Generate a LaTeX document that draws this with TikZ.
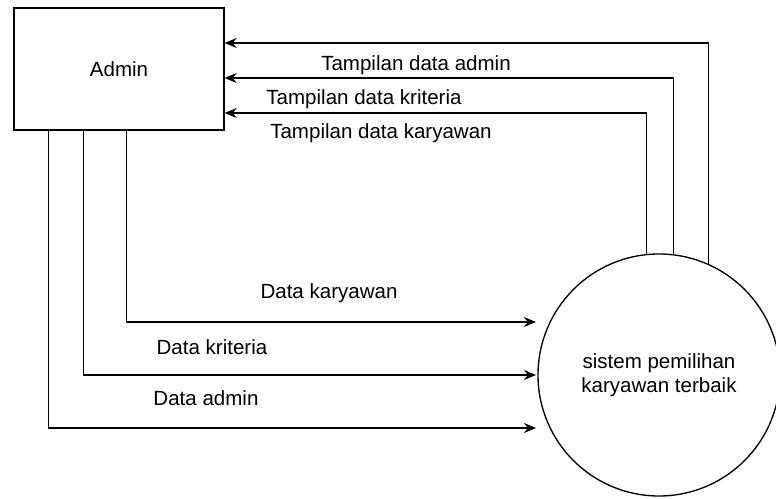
\documentclass[tikz,border=0pt]{standalone}
\usepackage{fontspec}
\setmainfont{Liberation Sans}
\usetikzlibrary{shapes,arrows.meta,positioning}
\tikzstyle{Entity} = [draw, rectangle, line width=1pt, minimum width=157.5pt, minimum height=91.5pt, font=\fontsize{15.4}{18}\selectfont]
\tikzstyle{Process} = [draw, circle, line width=1pt, minimum size=181.5pt, inner sep=0pt, align=center, font=\fontsize{15.4}{18}\selectfont]
\tikzstyle{Label} = [inner sep=0pt, font=\fontsize{15.4}{18}\selectfont]
\tikzstyle{Flow} = [draw, line width=1pt, -{Stealth[length=9pt,width=7.5pt]}]

\begin{document}
\begin{tikzpicture}[x=0.75pt, y=-0.75pt]
    \useasboundingbox (0,0) rectangle (776,499);
    \node[Entity]  (admin)  at (119,69)   {Admin};
    \node[Process] (sistem) at (659,375)  {sistem pemilihan\\karyawan terbaik};
    % input flows
    \draw[Flow] ([xshift=84.75pt]admin.south west) |- ([xshift=-1pt]sistem.west |- 0,322);
    \draw[Flow] ([xshift=52.5pt]admin.south west)  |- ([xshift=-1pt]sistem.west |- 0,375);
    \draw[Flow] ([xshift=26.25pt]admin.south west) |- ([xshift=-1pt]sistem.west |- 0,428);
    % output flows
    \draw[Flow] (sistem.66.6) |- (admin.east |- 0,43);
    \draw[Flow] (sistem.83.4) |- (admin.east |- 0,78);
    \draw[Flow] (sistem.96.6) |- (admin.east |- 0,113);
    \node[Label] (tadmin)  at (416,65)  {Tampilan data admin};
    \node[Label] (tkrit)   at (364,99)  {Tampilan data kriteria};
    \node[Label] (tkary)   at (381,133) {Tampilan data karyawan};
    \node[Label] (dkary)   at (329,293) {Data karyawan};
    \node[Label] (dkrit)   at (212,347) {Data kriteria};
    \node[Label] (dadmin)  at (206,398) {Data admin};
  \end{tikzpicture}
\end{document}
